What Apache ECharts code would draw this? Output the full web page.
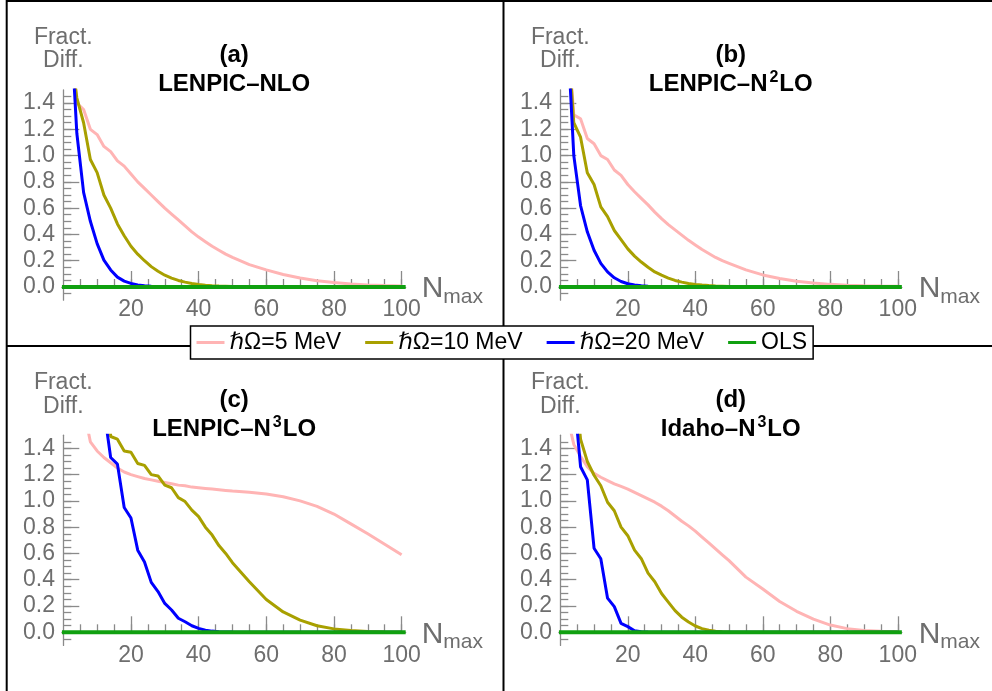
<!DOCTYPE html>
<html>
<head>
<meta charset="utf-8">
<title>Fract. Diff. vs Nmax</title>
<script src="https://cdn.jsdelivr.net/npm/echarts@6/dist/echarts.min.js"></script>
<style>
html,body{margin:0;padding:0;background:#fff;}
#main{width:992px;height:691px;}
</style>
</head>
<body>
<div id="main"></div>
<script>
var FONT = '"Liberation Sans", Arial, "DejaVu Sans", sans-serif';

// Nmax values (shared by every panel)
var nmax = [2,4,6,8,10,12,14,16,18,20,22,24,26,28,30,32,34,36,38,40,42,44,46,48,50,55,60,65,70,75,80,85,90,95,100];

// (a) LENPIC-NLO
var a5  = [2.0,1.40,1.35,1.20,1.16, 1.07,1.03,0.96,0.92,0.86, 0.80,0.75,0.70,0.65,0.60, 0.555,0.51,0.465,0.42,0.38, 0.345,0.31,0.28,0.25,0.225, 0.17,0.13,0.095,0.068,0.048, 0.034,0.023,0.016,0.011,0.008];
var a10 = [1.84,1.44,1.25,0.97,0.87, 0.70,0.60,0.48,0.39,0.31, 0.25,0.20,0.155,0.12,0.09, 0.068,0.05,0.037,0.027,0.02, 0.014,0.01,0.007,0.005,0.003, 0.001,0.0005,0,0,0, 0,0,0,0,0];
var a20 = [2.1,1.17,0.72,0.50,0.33, 0.205,0.13,0.075,0.045,0.027, 0.016,0.01,0.006,0.004,0.0025, 0.0015,0.001,0,0,0, 0,0,0,0,0, 0,0,0,0,0, 0,0,0,0,0];

// (b) LENPIC-N2LO
var b5  = [2.0,1.31,1.28,1.13,1.09, 1.0,0.97,0.89,0.85,0.78, 0.725,0.675,0.625,0.57,0.52, 0.475,0.435,0.395,0.355,0.32, 0.285,0.255,0.225,0.2,0.18, 0.13,0.092,0.064,0.044,0.03, 0.02,0.014,0.01,0.007,0.005];
var b10 = [2.0,1.25,1.14,0.87,0.78, 0.61,0.535,0.43,0.36,0.29, 0.235,0.19,0.15,0.115,0.09, 0.068,0.05,0.037,0.027,0.02, 0.015,0.011,0.008,0.006,0.004, 0.002,0.001,0,0,0, 0,0,0,0,0];
var b20 = [2.0,1.0,0.62,0.42,0.28, 0.18,0.115,0.07,0.042,0.025, 0.015,0.009,0.005,0.003,0.002, 0.001,0,0,0,0, 0,0,0,0,0, 0,0,0,0,0, 0,0,0,0,0];

// (c) LENPIC-N3LO
var c5  = [3.0,2.3,1.7,1.45,1.38, 1.33,1.29,1.25,1.22,1.20, 1.185,1.17,1.16,1.15,1.14, 1.13,1.12,1.115,1.105,1.10, 1.095,1.09,1.085,1.08,1.075, 1.065,1.052,1.032,1.0,0.958, 0.90,0.825,0.75,0.67,0.59];
var c10 = [4.0,3.6,3.2,2.9,2.7, 2.5,1.49,1.47,1.38,1.37, 1.285,1.27,1.20,1.19,1.12, 1.10,1.025,0.995,0.93,0.88, 0.80,0.74,0.66,0.60,0.53, 0.385,0.25,0.155,0.093,0.05, 0.026,0.013,0.006,0.003,0.001];
var c20 = [4.0,3.6,3.2,2.8,2.3, 1.7,1.33,1.28,0.95,0.87, 0.625,0.535,0.38,0.31,0.22, 0.17,0.107,0.08,0.05,0.03, 0.016,0.009,0.005,0.003,0.002, 0.001,0,0,0,0, 0,0,0,0,0];

// (d) Idaho-N3LO
var d5  = [1.65,1.43,1.34,1.26,1.21, 1.18,1.155,1.13,1.11,1.09, 1.065,1.04,1.015,0.99,0.96, 0.925,0.885,0.845,0.81,0.77, 0.725,0.68,0.635,0.59,0.545, 0.42,0.33,0.235,0.16,0.10, 0.055,0.028,0.014,0.008,0.005];
var d10 = [3.0,2.0,1.47,1.30,1.195, 1.115,0.99,0.925,0.80,0.735, 0.625,0.56,0.45,0.385,0.295, 0.23,0.165,0.115,0.078,0.048, 0.028,0.015,0.008,0.004,0.002, 0.001,0,0,0,0, 0,0,0,0,0];
var d20 = [3.0,1.82,1.26,1.16,0.64, 0.56,0.26,0.195,0.068,0.043, 0.012,0.005,0.002,0.001,0, 0,0,0,0,0, 0,0,0,0,0, 0,0,0,0,0, 0,0,0,0,0];

// OLS: zero everywhere
var olsX = [-0.4, 101.2];
var olsY = [0, 0];

var names = ['\u210F\u03A9=5 MeV', '\u210F\u03A9=10 MeV', '\u210F\u03A9=20 MeV', 'OLS'];
var colors = ['#ffb4b4', '#a8a000', '#0000ff', '#10a010'];

// ticks
var xMajor = [20, 40, 60, 80, 100];
var xMinor = [5,10,15,20,25,30,35,40,45,50,55,60,65,70,75,80,85,90,95,100];
var yMajor = [0, 0.2, 0.4, 0.6, 0.8, 1.0, 1.2, 1.4];
var yMinor = [];
for (var t = -1; t <= 29; t++) yMinor.push(+(t * 0.05).toFixed(2));

var xMin = -0.4, xMax = 101.2, yMin = -0.1, yMax = 1.5;
var sy = 131.4; // px per unit on y
var axisGray = '#8a8a8a', labelGray = '#6e6e6e';

var panels = [
	{tag:'(a)', title:'{b|LENPIC\u2013NLO}', ox:63.3, oy:287, sx:3.383, lines:[a5, a10, a20]},
	{tag:'(b)', title:'{b|LENPIC\u2013N}{s|2}{b|LO}', ox:560.3, oy:287, sx:3.375, lines:[b5, b10, b20]},
	{tag:'(c)', title:'{b|LENPIC\u2013N}{s|3}{b|LO}', ox:63.3, oy:632.3, sx:3.383, lines:[c5, c10, c20]},
	{tag:'(d)', title:'{b|Idaho\u2013N}{s|3}{b|LO}', ox:560.3, oy:632.3, sx:3.375, lines:[d5, d10, d20]}
];

function pairs(xs, ys){
	var out = [];
	for (var i = 0; i < xs.length; i++) out.push([xs[i], ys[i]]);
	return out;
}

var grids = [], xAxes = [], yAxes = [], series = [];
var graphics = [
	// frame lines
	{type:'line', shape:{x1:6.7, y1:0, x2:6.7, y2:691}, style:{stroke:'#000', lineWidth:2}},
	{type:'line', shape:{x1:6, y1:1, x2:992, y2:1}, style:{stroke:'#000', lineWidth:2}},
	{type:'line', shape:{x1:503.5, y1:0, x2:503.5, y2:691}, style:{stroke:'#000', lineWidth:2}},
	{type:'line', shape:{x1:6, y1:346, x2:992, y2:346}, style:{stroke:'#000', lineWidth:1.8}}
];

panels.forEach(function(p, i){
	grids.push({
		left: p.ox + xMin * p.sx,
		top: p.oy - yMax * sy,
		width: (xMax - xMin) * p.sx,
		height: (yMax - yMin) * sy
	});
	// minor ticks + labels (labels sit at the grid bottom, hence the small margin)
	xAxes.push({
		type:'value', gridIndex:i, min:xMin, max:xMax, position:'bottom',
		axisLine:{onZero:true, lineStyle:{color:axisGray, width:1.3}},
		axisTick:{inside:true, length:8, customValues:xMinor, lineStyle:{color:axisGray, width:1.3}},
		axisLabel:{customValues:xMajor, margin:-1.5, fontSize:23, color:labelGray, fontFamily:FONT},
		splitLine:{show:false}
	});
	// major ticks
	xAxes.push({
		type:'value', gridIndex:i, min:xMin, max:xMax, position:'bottom',
		axisLine:{show:false, onZero:true},
		axisTick:{inside:true, length:16, customValues:xMajor, lineStyle:{color:axisGray, width:1.3}},
		axisLabel:{show:false},
		splitLine:{show:false}
	});
	yAxes.push({
		type:'value', gridIndex:i, min:yMin, max:yMax, position:'left',
		axisLine:{onZero:true, lineStyle:{color:axisGray, width:1.3}},
		axisTick:{inside:true, length:8, customValues:yMinor, lineStyle:{color:axisGray, width:1.3}},
		axisLabel:{customValues:yMajor, margin:7, fontSize:23, color:labelGray, fontFamily:FONT,
			formatter:function(v){ return v.toFixed(1); }},
		splitLine:{show:false}
	});
	yAxes.push({
		type:'value', gridIndex:i, min:yMin, max:yMax, position:'left',
		axisLine:{show:false, onZero:true},
		axisTick:{inside:true, length:16, customValues:yMajor, lineStyle:{color:axisGray, width:1.3}},
		axisLabel:{show:false},
		splitLine:{show:false}
	});

	for (var k = 0; k < 3; k++) {
		series.push({
			type:'line', name:names[k], xAxisIndex:2*i, yAxisIndex:2*i,
			data:pairs(nmax, p.lines[k]),
			symbol:'none', showSymbol:false, clip:true, z:2+k,
			lineStyle:{width:3, color:colors[k]}, itemStyle:{color:colors[k]}
		});
	}
	series.push({
		type:'line', name:names[3], xAxisIndex:2*i, yAxisIndex:2*i,
		data:pairs(olsX, olsY),
		symbol:'none', showSymbol:false, clip:true, z:6,
		lineStyle:{width:4, color:colors[3]}, itemStyle:{color:colors[3]}
	});

	// axis captions and titles
	var cx = p.ox + 50.5 * p.sx;
	graphics.push(
		{type:'text', x:p.ox, y:p.oy - 249.5, style:{text:'Fract.', font:'23px ' + FONT, fill:labelGray, align:'center', verticalAlign:'middle'}},
		{type:'text', x:p.ox, y:p.oy - 226, style:{text:'Diff.', font:'23px ' + FONT, fill:labelGray, align:'center', verticalAlign:'middle'}},
		{type:'text', x:p.ox + 358.4, y:p.oy + 2, style:{text:'N', font:'30px ' + FONT, fill:labelGray, align:'left', verticalAlign:'middle'}},
		{type:'text', x:p.ox + 380, y:p.oy + 10, style:{text:'max', font:'21px ' + FONT, fill:labelGray, align:'left', verticalAlign:'middle'}},
		{type:'text', x:cx, y:p.oy - 232, style:{text:p.tag, font:'bold 24px ' + FONT, fill:'#000', align:'center', verticalAlign:'middle'}},
		{type:'text', x:cx, y:p.oy - 202.5, style:{
			text:p.title, align:'center', verticalAlign:'middle',
			rich:{
				b:{font:'bold 24px ' + FONT, fill:'#000', lineHeight:30},
				s:{font:'bold 16px ' + FONT, fill:'#000', lineHeight:23, verticalAlign:'top', padding:[0,1,0,2]}
			}
		}}
	);
});

var myChart = echarts.init(document.getElementById('main'));
var option = {
	animation:false,
	backgroundColor:'#fff',
	textStyle:{fontFamily:FONT},
	grid:grids,
	xAxis:xAxes,
	yAxis:yAxes,
	legend:{
		data:names, left:190.5, top:326, orient:'horizontal',
		icon:'rect', itemWidth:28, itemHeight:3, itemGap:24,
		padding:[5,6,5,6], borderColor:'#000', borderWidth:1.5, backgroundColor:'#fff',
		selectedMode:false,
		textStyle:{fontSize:23, color:'#000', fontFamily:FONT}
	},
	graphic:graphics,
	series:series
};
myChart.setOption(option);
</script>
</body>
</html>
